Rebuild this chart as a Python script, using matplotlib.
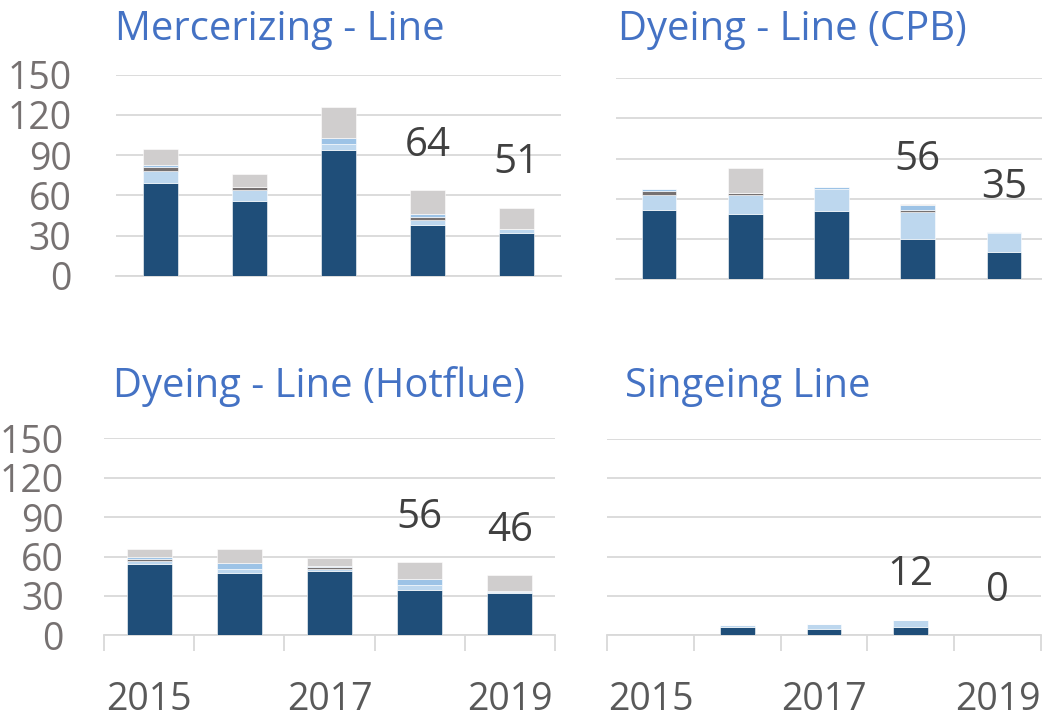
import numpy as np
import matplotlib
matplotlib.use("Agg")
from matplotlib import pyplot as plt

plt.rcParams['font.family'] = ['Open Sans', 'DejaVu Sans']

years = [2015, 2016, 2017, 2018, 2019]
year_labels = ['2015', '', '2017', '', '2019']
titles = ['Mercerizing - Line', 'Dyeing - Line (CPB)',
          'Dyeing - Line (Hotflue)', 'Singeing Line']

# stacked components per line, bottom to top
merc_main = [69, 56, 94, 38, 32]
merc_light = [9, 8, 4, 4, 3]
merc_dgray = [3, 2, 0, 2, 0]
merc_mid = [2, 0, 5, 2, 0]
merc_lgray = [12, 10, 23, 18, 16]

cpb_main = [52, 49, 51, 30, 20.5]
cpb_light = [11, 14, 16, 20, 14]
cpb_dgray = [3, 1, 0, 2, 0]
cpb_mid = [1, 0, 1.5, 3, 0.5]
cpb_lgray = [0, 19, 0, 1, 0]

hot_main = [54.5, 47.5, 49, 34.5, 32.5]
hot_light = [2, 3, 1.5, 3.5, 0.5]
hot_dgray = [1.5, 0, 1.5, 0, 0]
hot_mid = [1.5, 4.5, 1, 5, 0.5]
hot_lgray = [6.5, 11, 5.5, 13, 12.5]

sing_main = [0, 6.5, 4.5, 6.5, 0]
sing_light = [0, 1.5, 4.5, 5.5, 0]
sing_dgray = [0, 0, 0, 0, 0]
sing_mid = [0, 0, 0, 0, 0]
sing_lgray = [0, 0, 0, 0, 0]

colors = ['#1f4e79', '#bdd7ee', '#767171', '#9dc3e6', '#d0cece']
grid_c = '#d9d9d9'

W, H = 1042, 718
fig = plt.figure(figsize=(W / 100, H / 100), dpi=100)


def px_axes(x0, x1, y_top, y_bot):
    return fig.add_axes([x0 / W, 1 - y_bot / H, (x1 - x0) / W, (y_bot - y_top) / H])


panels = [
    dict(box=(116, 561, 74.7, 276), data=[merc_main, merc_light, merc_dgray, merc_mid, merc_lgray],
         width=0.4, ylab=True, ypad=32, xlab=False, title_xy=(115, 39.5)),
    dict(box=(616, 1047, 78, 279.3), data=[cpb_main, cpb_light, cpb_dgray, cpb_mid, cpb_lgray],
         width=0.4, ylab=False, ypad=32, xlab=False, title_xy=(618, 39.5)),
    dict(box=(104, 555, 438.3, 635.3), data=[hot_main, hot_light, hot_dgray, hot_mid, hot_lgray],
         width=0.5, ylab=True, ypad=29, xlab=True, title_xy=(113, 396.7)),
    dict(box=(607, 1041, 438.7, 635.3), data=[sing_main, sing_light, sing_dgray, sing_mid, sing_lgray],
         width=0.4, ylab=False, ypad=32, xlab=True, title_xy=(625, 396.7)),
]

x = np.arange(len(years))
for p, title in zip(panels, titles):
    ax = px_axes(*p['box'])
    bottom = np.zeros(len(years))
    for vals, c in zip(p['data'], colors):
        vals = np.array(vals, dtype=float)
        ax.bar(x, vals, width=p['width'], bottom=bottom, color=c, edgecolor='white',
               linewidth=0.4, zorder=3)
        bottom += vals
    # totals for the last two years
    for i in (3, 4):
        ax.annotate(f"{bottom[i]:.0f}", (x[i], bottom[i]), xytext=(0, 32),
                    textcoords='offset points', ha='center', va='center',
                    fontsize=29, color='#404040', zorder=4)

    ax.set_xlim(-0.5, len(years) - 0.5)
    ax.set_ylim(0, 150)
    ax.set_yticks([0, 30, 60, 90, 120, 150])
    ax.yaxis.grid(True, color=grid_c, linewidth=1.3, zorder=0)
    ax.set_axisbelow(True)
    for s in ['top', 'right', 'left']:
        ax.spines[s].set_visible(False)
    ax.spines['bottom'].set_color(grid_c)
    ax.spines['bottom'].set_linewidth(1.3)
    ax.tick_params(axis='y', length=0, pad=p['ypad'], labelsize=27, labelcolor='#767171',
                   labelleft=p['ylab'])
    if p['xlab']:
        ax.set_xticks(x)
        ax.set_xticklabels(year_labels)
        ax.set_xticks(np.arange(-0.5, len(years)), minor=True)
        ax.tick_params(axis='x', which='major', length=0, pad=33, labelsize=27,
                       labelcolor='#595959')
        ax.tick_params(axis='x', which='minor', length=11.5, width=1.3, color=grid_c)
    else:
        ax.set_xticks([])
    tx, ty = p['title_xy']
    fig.text(tx / W, 1 - ty / H, title, fontsize=28.8, color='#4472c4',
             ha='left', va='baseline')

fig.savefig('out.png', dpi=100)
